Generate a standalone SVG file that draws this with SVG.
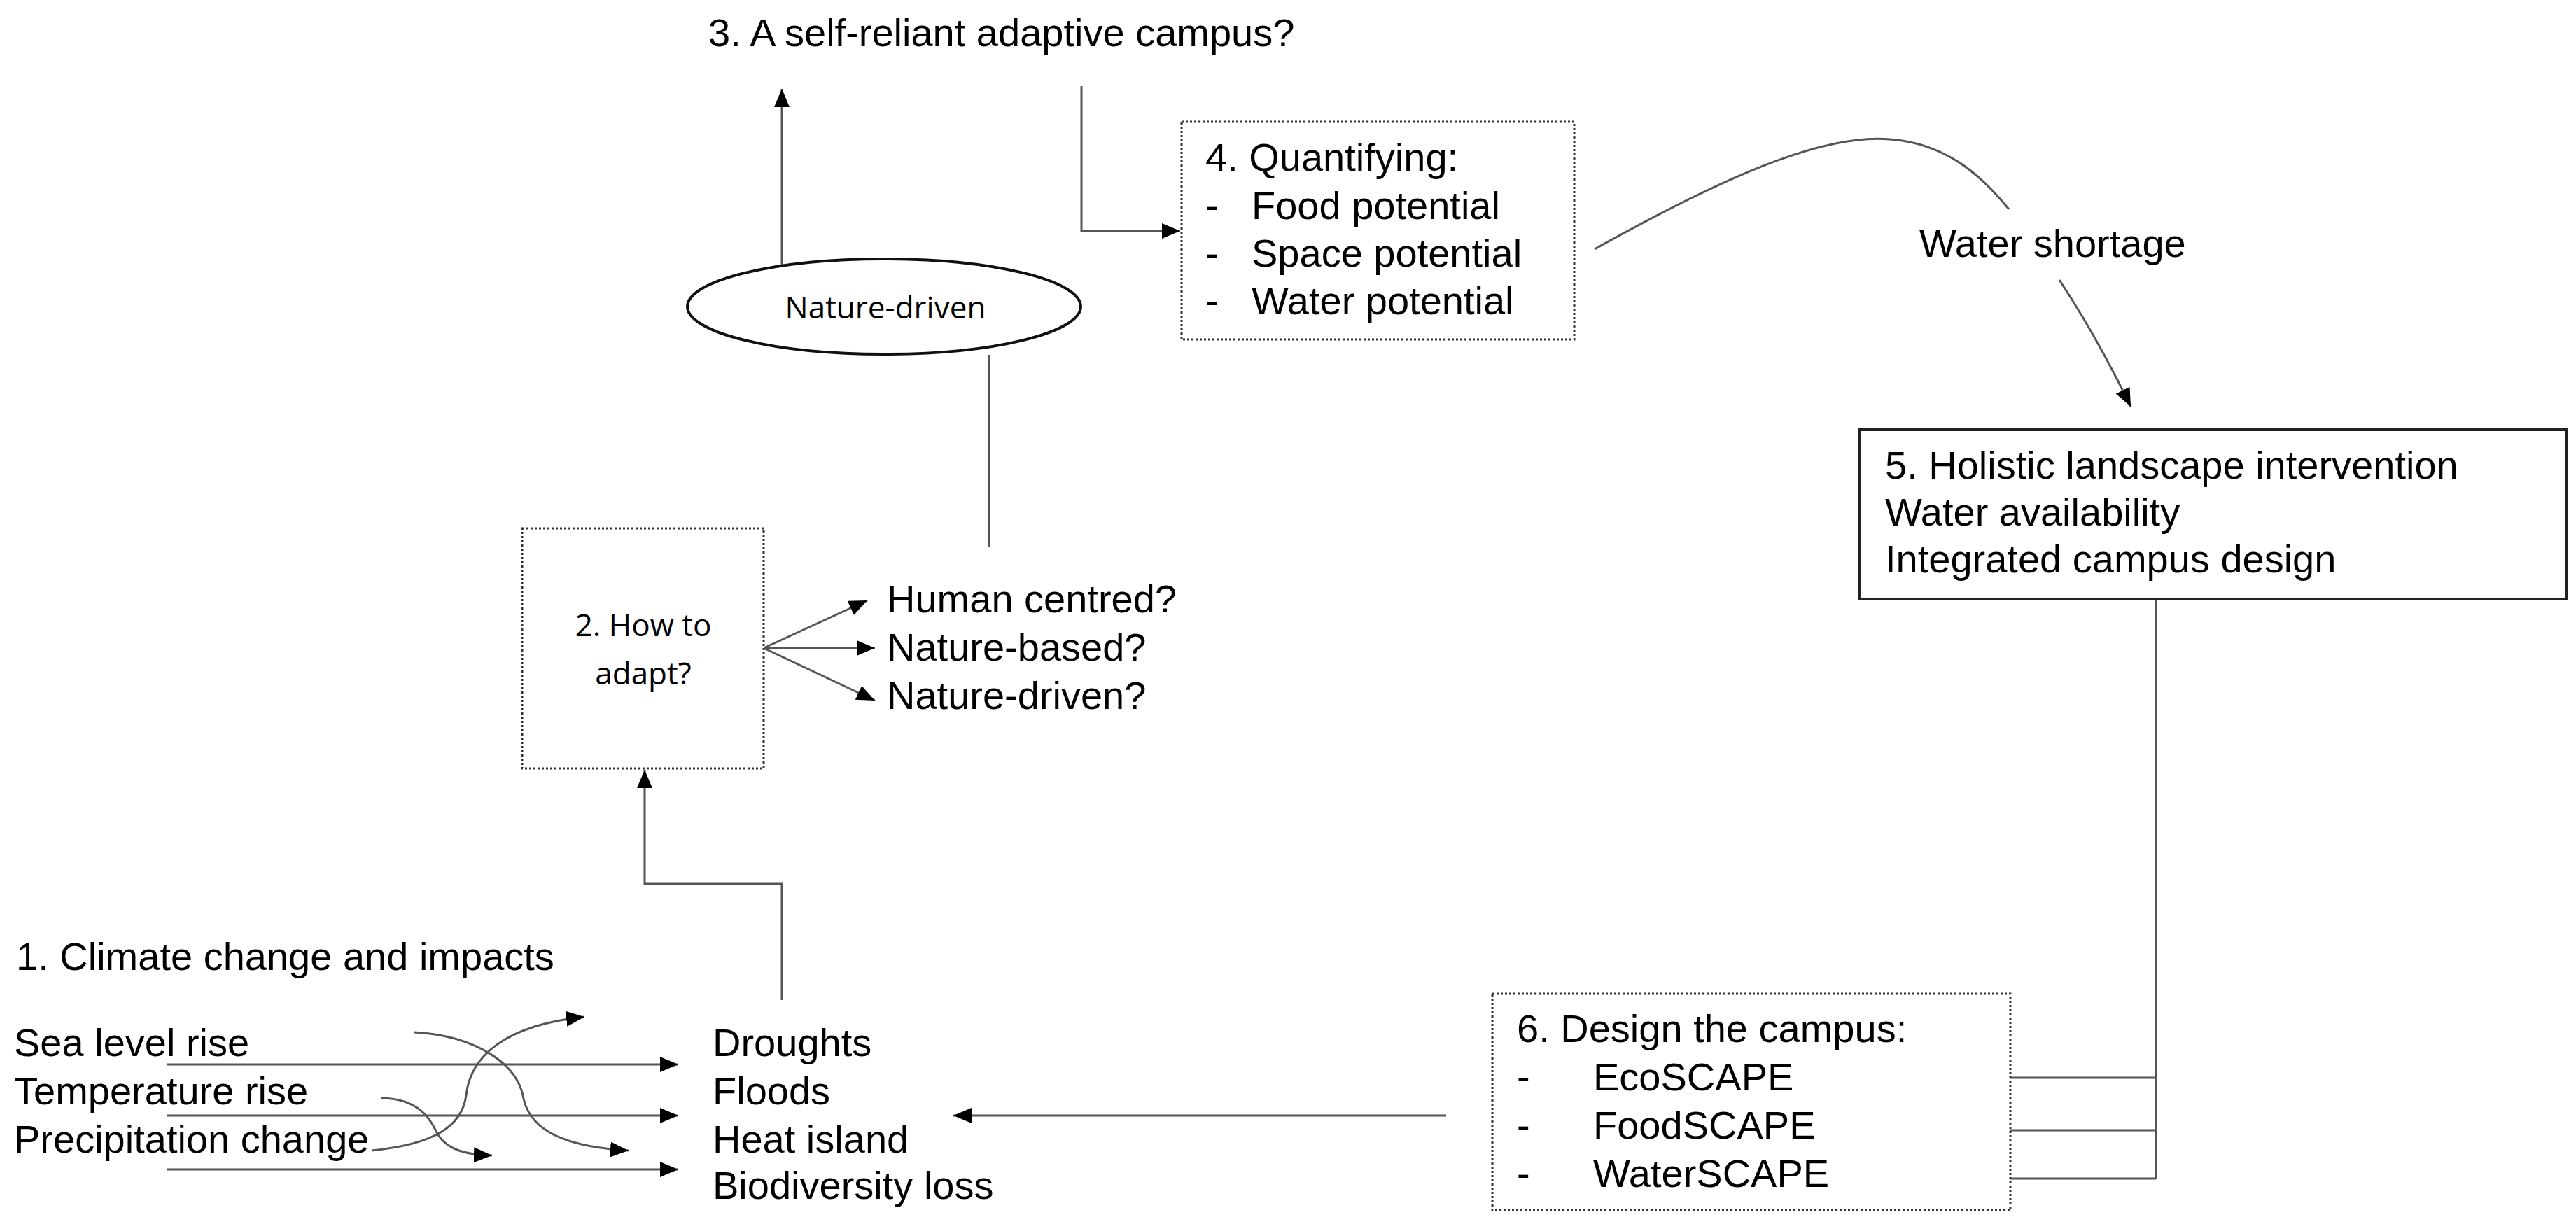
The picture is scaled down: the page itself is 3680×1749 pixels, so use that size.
<svg xmlns="http://www.w3.org/2000/svg" width="3680" height="1749" viewBox="0 0 3680 1749">
<style>
.t{font-family:"Liberation Sans",Arial,sans-serif;font-size:56px;fill:#000}
.c{font-family:"Open Sans","Noto Sans",sans-serif;font-size:44px;fill:#000}
.ln{fill:none;stroke:#555;stroke-width:3}
.dot{fill:#fff;stroke:#333;stroke-width:3;stroke-dasharray:3 3}
</style>
<defs>
<marker id="ah" markerUnits="userSpaceOnUse" markerWidth="28" markerHeight="24" refX="26" refY="11" orient="auto"><path d="M0,0 L26,11 L0,22 z" fill="#000"/></marker>
</defs>
<rect width="3680" height="1749" fill="#fff"/>
<g id="connectors">
<path class="ln" d="M1117,379 V127" marker-end="url(#ah)"/>
<path class="ln" d="M1545,123 V330 H1686" marker-end="url(#ah)"/>
<path class="ln" d="M1413,507 V781"/>
<path class="ln" d="M1117,1429 V1263 H921 V1100" marker-end="url(#ah)"/>
<path class="ln" d="M1091,926 L1239,858" marker-end="url(#ah)"/>
<path class="ln" d="M1091,926 L1250,926" marker-end="url(#ah)"/>
<path class="ln" d="M1091,926 L1250,1001" marker-end="url(#ah)"/>
<path class="ln" d="M2278,356 C2450,260 2600,190 2700,199 C2780,205 2830,250 2870,299"/>
<path class="ln" d="M2942,400 Q2995,480 3044,581" marker-end="url(#ah)"/>
<path class="ln" d="M3080,856 V1684"/>
<path class="ln" d="M3080,1540 H2709" marker-end="url(#ah)"/>
<path class="ln" d="M3080,1615 H2709" marker-end="url(#ah)"/>
<path class="ln" d="M3080,1684 H2709" marker-end="url(#ah)"/>
<path class="ln" d="M2066,1594 H1362" marker-end="url(#ah)"/>
<path class="ln" d="M238,1521 H969" marker-end="url(#ah)"/>
<path class="ln" d="M238,1594 H969" marker-end="url(#ah)"/>
<path class="ln" d="M238,1671 H969" marker-end="url(#ah)"/>
<path class="ln" d="M592,1475 C680,1480 740,1520 748,1570 C760,1625 830,1640 898,1644" marker-end="url(#ah)"/>
<path class="ln" d="M531,1644 C620,1635 660,1610 666,1565 C672,1510 720,1465 835,1453" marker-end="url(#ah)"/>
<path class="ln" d="M545,1569 C600,1570 615,1600 625,1620 C640,1645 670,1650 703,1651" marker-end="url(#ah)"/>
</g>
<g id="n3"><text class="t" x="1012" y="66">3. A self-reliant adaptive campus?</text></g>
<g id="ellipse"><ellipse cx="1263" cy="438" rx="281" ry="68" fill="#fff" stroke="#111" stroke-width="4"/><text class="c" x="1265" y="455" text-anchor="middle">Nature-driven</text></g>
<g id="n4"><rect class="dot" x="1688" y="174" width="561" height="311"/>
<text class="t" x="1722" y="244">4. Quantifying:</text>
<text class="t" x="1722" y="313">-</text><text class="t" x="1788" y="313">Food potential</text>
<text class="t" x="1722" y="381">-</text><text class="t" x="1788" y="381">Space potential</text>
<text class="t" x="1722" y="449">-</text><text class="t" x="1788" y="449">Water potential</text></g>
<g id="ws"><text class="t" x="2742" y="367">Water shortage</text></g>
<g id="n5"><rect x="2656" y="614" width="1010" height="242" fill="#fff" stroke="#222" stroke-width="4"/>
<text class="t" x="2693" y="684">5. Holistic landscape intervention</text>
<text class="t" x="2693" y="751">Water availability</text>
<text class="t" x="2693" y="818">Integrated campus design</text></g>
<g id="n2"><rect class="dot" x="746" y="755" width="345" height="343" fill="none"/>
<text class="c" x="919" y="909" text-anchor="middle">2. How to</text>
<text class="c" x="919" y="978" text-anchor="middle">adapt?</text></g>
<g id="opts"><text class="t" x="1267" y="875">Human centred?</text>
<text class="t" x="1267" y="944">Nature-based?</text>
<text class="t" x="1267" y="1013">Nature-driven?</text></g>
<g id="n1"><text class="t" x="23" y="1386">1. Climate change and impacts</text>
<text class="t" x="20" y="1509">Sea level rise</text>
<text class="t" x="20" y="1578">Temperature rise</text>
<text class="t" x="20" y="1647">Precipitation change</text>
<text class="t" x="1018" y="1509">Droughts</text>
<text class="t" x="1018" y="1578">Floods</text>
<text class="t" x="1018" y="1647">Heat island</text>
<text class="t" x="1018" y="1713">Biodiversity loss</text></g>
<g id="n6"><rect class="dot" x="2132" y="1420" width="740" height="309" fill="none"/>
<text class="t" x="2167" y="1489">6. Design the campus:</text>
<text class="t" x="2167" y="1558">-</text><text class="t" x="2276" y="1558">EcoSCAPE</text>
<text class="t" x="2167" y="1627">-</text><text class="t" x="2276" y="1627">FoodSCAPE</text>
<text class="t" x="2167" y="1696">-</text><text class="t" x="2276" y="1696">WaterSCAPE</text></g>
</svg>
